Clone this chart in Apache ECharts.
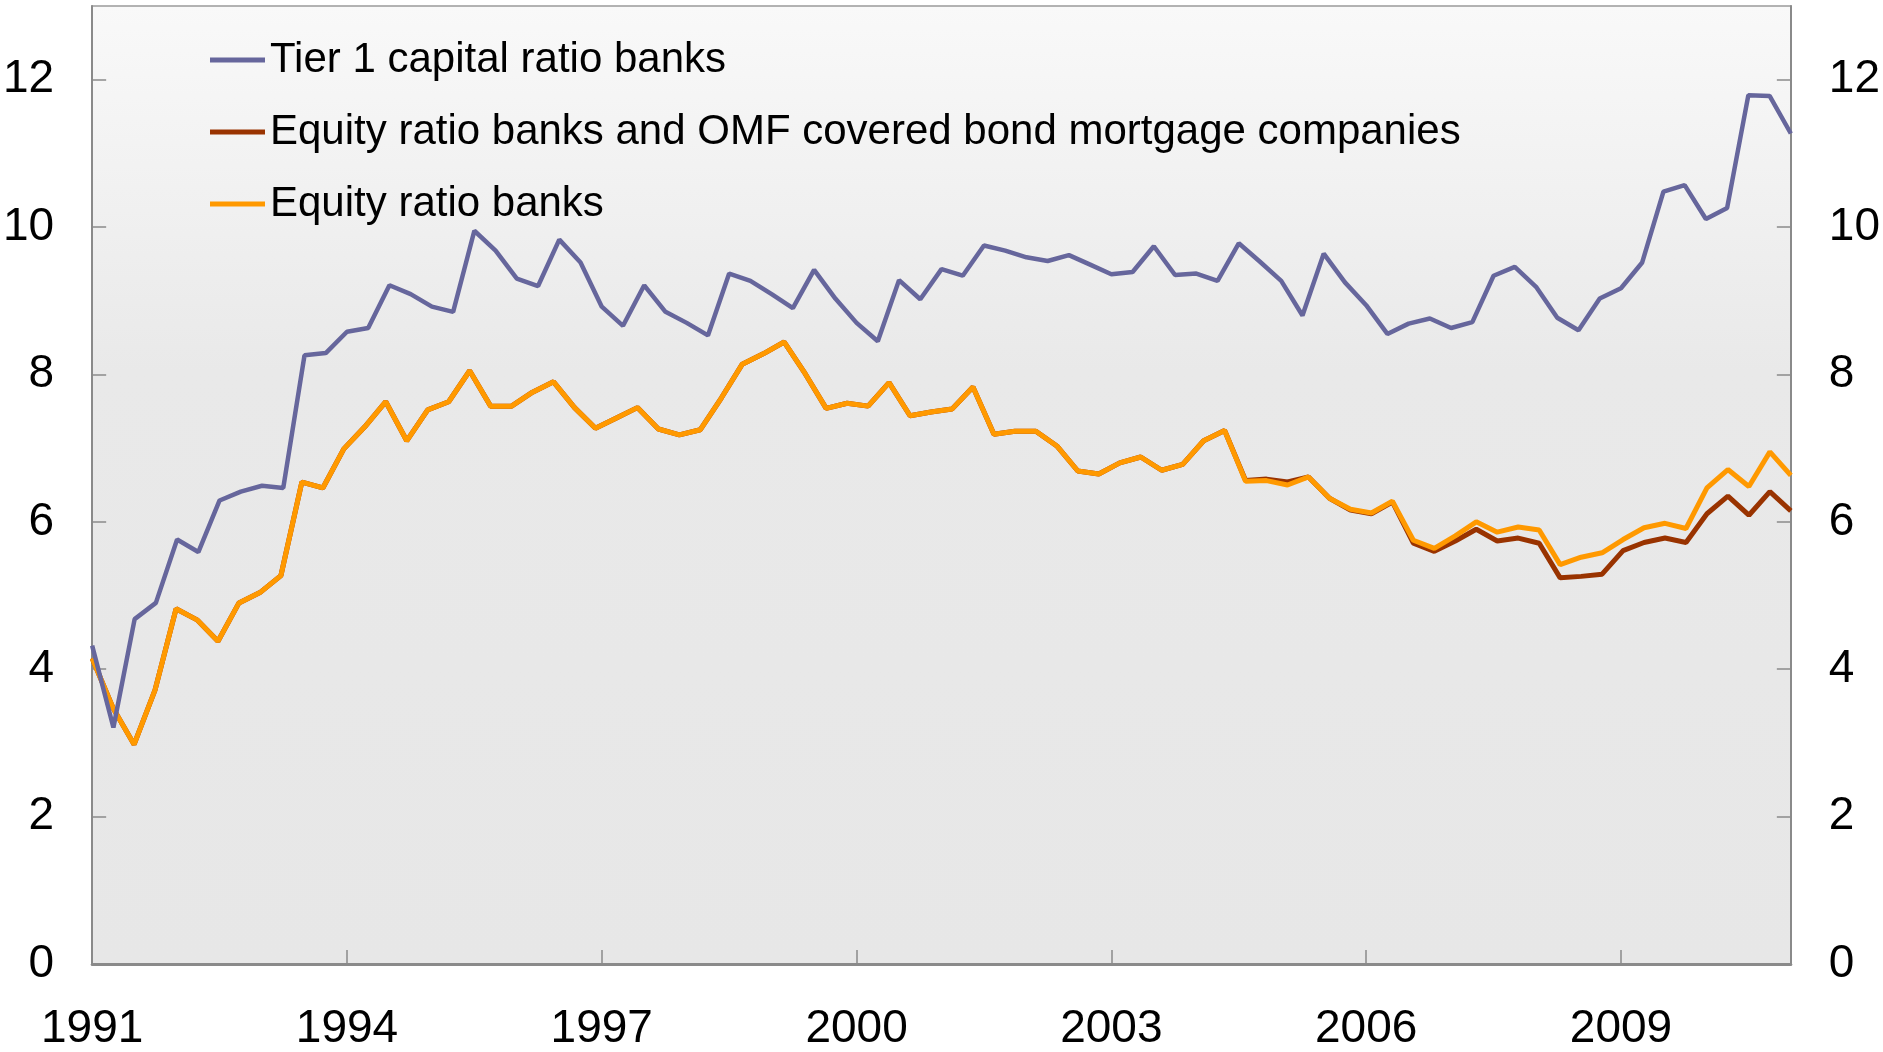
<!DOCTYPE html>
<html>
<head>
<meta charset="utf-8">
<script src="https://cdn.jsdelivr.net/npm/echarts@6/dist/echarts.min.js"></script>
<style>
html,body{margin:0;padding:0;background:#ffffff;}
#chart{width:1883px;height:1052px;}
</style>
</head>
<body>
<div id="chart"></div>
<script>
// ---- Data ----
const seriesNames = [
  'Tier 1 capital ratio banks',
  'Equity ratio banks and OMF covered bond mortgage companies',
  'Equity ratio banks'
];

// Quarterly categories 1991Q1 ... 2011Q1 (Tier 1 series, 81 observations)
const quarters = [];
for (let y = 1991; y <= 2011; y++) { for (let q = 1; q <= 4; q++) { quarters.push(y + 'Q' + q); } }
const tierCategories = quarters.slice(0, 81);
// Equity ratio series have 82 observations spread over the same span (own hidden axis)
const equityCategories = quarters.slice(0, 82);

const xTickYears = ['1991', '1994', '1997', '2000', '2003', '2006', '2009'];

const tier1 = [
  4.32, 3.21, 4.68, 4.90, 5.76, 5.59, 6.29, 6.41, 6.49, 6.46,
  8.26, 8.29, 8.58, 8.63, 9.21, 9.09, 8.92, 8.85, 9.95, 9.68,
  9.30, 9.20, 9.83, 9.52, 8.92, 8.66, 9.21, 8.85, 8.70, 8.53,
  9.37, 9.27, 9.09, 8.90, 9.42, 9.03, 8.70, 8.45, 9.28, 9.02,
  9.43, 9.34, 9.75, 9.68, 9.59, 9.54, 9.62, 9.49, 9.36, 9.39,
  9.74, 9.35, 9.37, 9.27, 9.78, 9.53, 9.27, 8.80, 9.64, 9.25,
  8.94, 8.55, 8.69, 8.76, 8.63, 8.71, 9.34, 9.46, 9.19, 8.77,
  8.60, 9.03, 9.17, 9.52, 10.48, 10.57, 10.11, 10.26, 11.79, 11.78,
  11.27
];

const equityBanks = [
  4.15, 3.47, 2.98, 3.72, 4.82, 4.67, 4.38, 4.90, 5.04, 5.27,
  6.54, 6.46, 6.99, 7.29, 7.63, 7.10, 7.52, 7.63, 8.05, 7.57,
  7.57, 7.76, 7.90, 7.55, 7.27, 7.41, 7.55, 7.26, 7.18, 7.25,
  7.68, 8.14, 8.28, 8.44, 8.01, 7.54, 7.61, 7.57, 7.89, 7.44,
  7.49, 7.53, 7.83, 7.19, 7.23, 7.23, 7.03, 6.69, 6.65, 6.80,
  6.88, 6.70, 6.78, 7.10, 7.24, 6.55, 6.56, 6.50, 6.61, 6.32,
  6.17, 6.12, 6.28, 5.75, 5.64, 5.81, 6.00, 5.86, 5.93, 5.89,
  5.42, 5.52, 5.58, 5.76, 5.92, 5.98, 5.91, 6.46, 6.71, 6.48,
  6.95, 6.63
];

const equityBanksOMF = [
  4.15, 3.47, 2.98, 3.72, 4.82, 4.67, 4.38, 4.90, 5.04, 5.27,
  6.54, 6.46, 6.99, 7.29, 7.63, 7.10, 7.52, 7.63, 8.05, 7.57,
  7.57, 7.76, 7.90, 7.55, 7.27, 7.41, 7.55, 7.26, 7.18, 7.25,
  7.68, 8.14, 8.28, 8.44, 8.01, 7.54, 7.61, 7.57, 7.89, 7.44,
  7.49, 7.53, 7.83, 7.19, 7.23, 7.23, 7.03, 6.69, 6.65, 6.80,
  6.88, 6.70, 6.78, 7.10, 7.24, 6.56, 6.58, 6.54, 6.61, 6.32,
  6.16, 6.11, 6.27, 5.71, 5.60, 5.74, 5.90, 5.74, 5.78, 5.71,
  5.24, 5.26, 5.29, 5.61, 5.72, 5.78, 5.72, 6.11, 6.35, 6.09,
  6.41, 6.15
];

// ---- Chart ----
const FONT = 'Liberation Sans, Arial, sans-serif';
const AXIS_COLOR = '#8a8a8a';

function yAxisDef(pos) {
  return {
    type: 'value', position: pos, min: 0, max: 13, interval: 2,
    axisLine: { show: true, lineStyle: { color: AXIS_COLOR, width: 2 } },
    axisTick: { show: true, inside: true, length: 14, lineStyle: { color: AXIS_COLOR, width: 1.5 } },
    axisLabel: { showMaxLabel: false, fontSize: 46, color: '#000', margin: 38, fontFamily: FONT },
    splitLine: { show: false }
  };
}

const chart = echarts.init(document.getElementById('chart'), null, { renderer: 'canvas' });
chart.setOption({
  animation: false,
  backgroundColor: '#ffffff',
  grid: {
    left: 92, right: 92, top: 6, bottom: 80,
    show: true, borderColor: '#9a9a9a', borderWidth: 1.5,
    backgroundColor: {
      type: 'linear', x: 0, y: 0, x2: 0, y2: 1,
      colorStops: [
        { offset: 0, color: '#f9f9f9' },
        { offset: 0.38, color: '#e9e9e9' },
        { offset: 1, color: '#e7e7e7' }
      ]
    }
  },
  legend: {
    orient: 'vertical', left: 205, top: 33,
    icon: 'rect', itemWidth: 55, itemHeight: 5, itemGap: 28,
    textStyle: { fontSize: 42, color: '#000', fontFamily: FONT, lineHeight: 44 },
    data: seriesNames
  },
  xAxis: [
    {
      type: 'category', data: tierCategories, boundaryGap: false, position: 'bottom',
      axisLine: { show: true, lineStyle: { color: AXIS_COLOR, width: 3 } },
      axisTick: {
        show: true, inside: true, length: 14,
        interval: (i) => i % 12 === 0 && i > 0 && i < 80,
        lineStyle: { color: AXIS_COLOR, width: 1.5 }
      },
      axisLabel: {
        interval: (i, v) => xTickYears.indexOf(String(v).slice(0, 4)) >= 0 && i % 12 === 0,
        formatter: (v) => String(v).slice(0, 4),
        fontSize: 46, color: '#000', margin: 42, fontFamily: FONT
      },
      splitLine: { show: false }
    },
    {
      type: 'category', data: equityCategories, boundaryGap: false, show: false
    }
  ],
  yAxis: [yAxisDef('left'), yAxisDef('right')],
  series: [
    {
      name: seriesNames[0], type: 'line', data: tier1, xAxisIndex: 0, yAxisIndex: 0,
      symbol: 'none', showSymbol: false, z: 4,
      lineStyle: { color: '#66669c', width: 4.5 }, itemStyle: { color: '#66669c' }
    },
    {
      name: seriesNames[1], type: 'line', data: equityBanksOMF, xAxisIndex: 1, yAxisIndex: 0,
      symbol: 'none', showSymbol: false, z: 2,
      lineStyle: { color: '#993300', width: 5 }, itemStyle: { color: '#993300' }
    },
    {
      name: seriesNames[2], type: 'line', data: equityBanks, xAxisIndex: 1, yAxisIndex: 0,
      symbol: 'none', showSymbol: false, z: 3,
      lineStyle: { color: '#ff9900', width: 5 }, itemStyle: { color: '#ff9900' }
    }
  ]
});
</script>
</body>
</html>
